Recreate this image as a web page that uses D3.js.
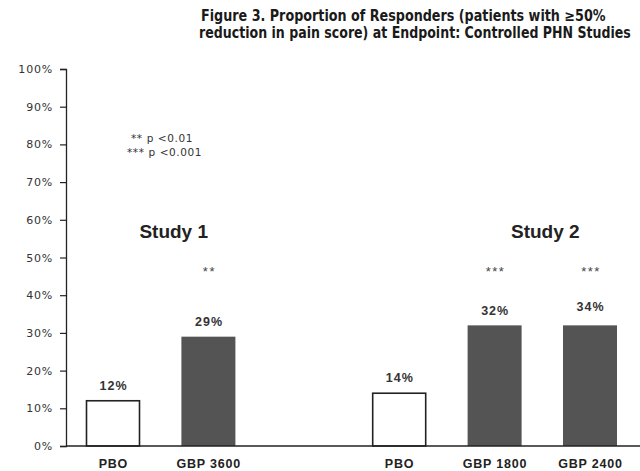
<!DOCTYPE html>
<html><head><meta charset="utf-8">
<script src="https://cdn.jsdelivr.net/npm/d3@7"></script>
<style>body{margin:0;background:#fff}svg{display:block}</style>
</head><body>
<svg id="c" width="640" height="471"></svg>
<script>
const titleLines = ["Figure 3. Proportion of Responders (patients with \u226550%", "reduction in pain score) at Endpoint: Controlled PHN Studies"];
const slots = ["S1-PBO", "S1-GBP3600", "gap", "S2-PBO", "S2-GBP1800", "S2-GBP2400"];
const barKeys = ["S1-PBO", "S1-GBP3600", "S2-PBO", "S2-GBP1800", "S2-GBP2400"];
const barNames = ["PBO", "GBP 3600", "PBO", "GBP 1800", "GBP 2400"];
const barValues = [12, 29, 14, 32, 32];
const valueLabels = ["12%", "29%", "14%", "32%", "34%"];
const isPlacebo = [true, false, true, false, false];
const sigMarks = ["", "**", "", "***", "***"];
const studies = ["Study 1", "Study 2"];
const studyCenters = [["S1-PBO", "S1-GBP3600"], ["S2-GBP1800", "S2-GBP2400"]];
const yTicks = [0, 10, 20, 30, 40, 50, 60, 70, 80, 90, 100];
const legendLines = ["** p <0.01", "*** p <0.001"];

const svg = d3.select("#c");
const y = d3.scaleLinear().domain([0, 100]).range([446, 69]);
const x = d3.scalePoint().domain(slots).range([113, 590]);
const bw = 54;
const ink = "#222";
const sans = "'Liberation Sans',Arial,sans-serif";

// title (horizontally scaled to fit the condensed look of the original)
const titleWidths = [405, 432];
svg.append("g").selectAll("text").data(titleLines).join("text")
  .attr("font-family", "'DejaVu Sans Condensed','Liberation Sans Narrow',sans-serif")
  .attr("font-weight", "bold").attr("font-size", 15).attr("fill", "#1a1a1a")
  .text(d => d)
  .each(function(d, i) {
    const w = this.getComputedTextLength();
    const sx = titleWidths[i] / w;
    d3.select(this).attr("transform", `translate(${i === 0 ? 201 : 199},${21 + i * 17}) scale(${sx},1)`);
  });

// y axis
const yAxis = d3.axisLeft(y).tickValues(yTicks).tickFormat(d => d + "%").tickSize(6).tickPadding(7);
const ga = svg.append("g").attr("transform", "translate(66,0)").call(yAxis);
ga.select(".domain").attr("stroke", ink).attr("stroke-width", 1.3);
ga.selectAll(".tick line").attr("stroke", ink).attr("stroke-width", 1.2);
ga.selectAll(".tick text").attr("font-family", "'DejaVu Sans',sans-serif")
  .attr("font-size", 11).attr("letter-spacing", 0.8).attr("fill", "#333");

// bars
const bars = barKeys.map((k, i) => ({k, name: barNames[i], v: barValues[i], lab: valueLabels[i], pbo: isPlacebo[i], sig: sigMarks[i]}));
svg.append("g").selectAll("rect").data(bars).join("rect")
  .attr("x", d => x(d.k) - bw / 2 + (d.pbo ? 0.5 : 0))
  .attr("y", d => y(d.v))
  .attr("width", d => bw - (d.pbo ? 1 : 0))
  .attr("height", d => y(0) - y(d.v))
  .attr("fill", d => d.pbo ? "#fff" : "#545454")
  .attr("stroke", d => d.pbo ? ink : "none")
  .attr("stroke-width", 1.6);

// baseline
svg.append("line").attr("x1", 66).attr("x2", 640).attr("y1", y(0)).attr("y2", y(0))
  .attr("stroke", ink).attr("stroke-width", 1.5);

// value labels
svg.append("g").selectAll("text").data(bars).join("text")
  .attr("x", d => x(d.k) + 0.6).attr("y", d => y(d.v) - (d.pbo ? 11 : 10) - (d.lab === "34%" ? 4 : 0) - (d.lab === "29%" ? 1 : 0))
  .attr("text-anchor", "middle")
  .attr("font-family", sans).attr("font-weight", "bold")
  .attr("font-size", 12.5).attr("letter-spacing", 1).attr("fill", "#333").text(d => d.lab);

// significance marks
svg.append("g").selectAll("text").data(bars.filter(d => d.sig)).join("text")
  .attr("x", d => x(d.k) + 1).attr("y", 276)
  .attr("text-anchor", "middle")
  .attr("font-family", sans)
  .attr("font-size", 13).attr("letter-spacing", 1.5).attr("fill", "#444").text(d => d.sig);

// category labels
svg.append("g").selectAll("text").data(bars).join("text")
  .attr("x", d => x(d.k) + 0.4).attr("y", 468)
  .attr("text-anchor", "middle")
  .attr("font-family", sans).attr("font-weight", "bold")
  .attr("font-size", 12.5).attr("letter-spacing", 0.8).attr("fill", "#222").text(d => d.name);

// study labels
svg.append("g").selectAll("text").data(studies).join("text")
  .attr("x", (d, i) => (x(studyCenters[i][0]) + x(studyCenters[i][1])) / 2 + (i === 0 ? 13 : 3))
  .attr("y", 238).attr("text-anchor", "middle")
  .attr("font-family", sans).attr("font-weight", "bold")
  .attr("font-size", 19).attr("fill", "#222").text(d => d);

// legend
svg.append("g").selectAll("text").data(legendLines).join("text")
  .attr("x", (d, i) => i === 0 ? 131 : 127).attr("y", (d, i) => 142 + i * 14)
  .attr("font-family", "'DejaVu Sans',sans-serif")
  .attr("font-size", 10.5).attr("letter-spacing", 0.6).attr("fill", "#333").text(d => d);
</script>
</body></html>
